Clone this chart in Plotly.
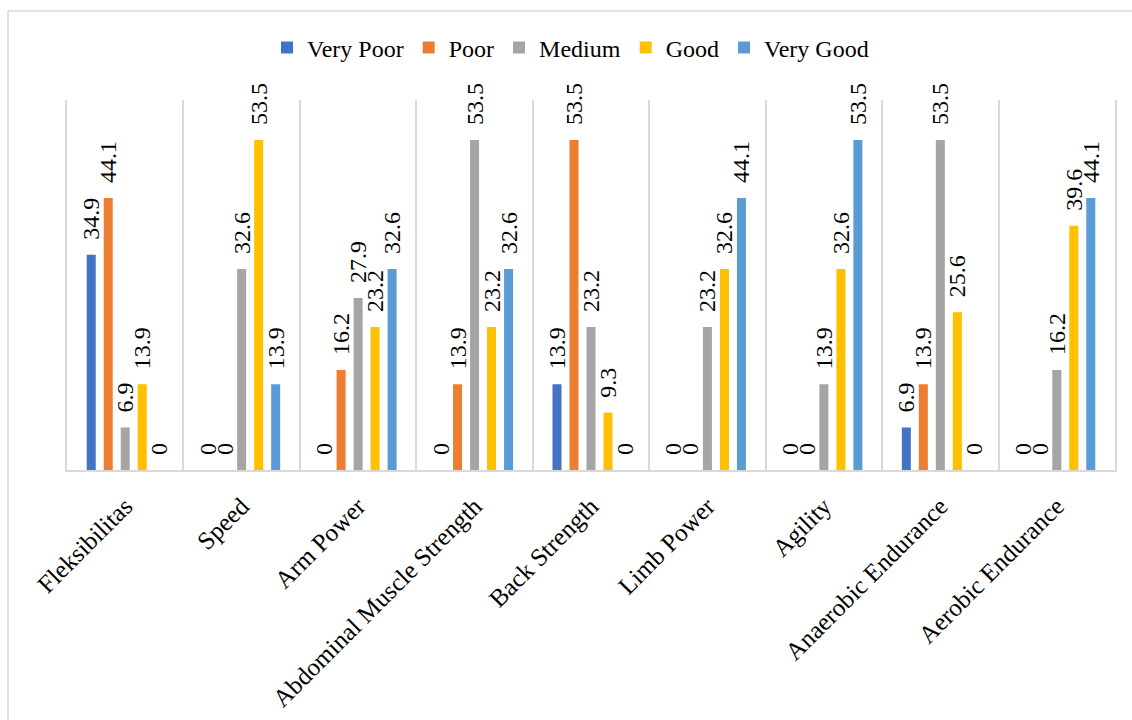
import plotly.graph_objects as go

categories = ["Fleksibilitas", "Speed", "Arm Power", "Abdominal Muscle Strength",
              "Back Strength", "Limb Power", "Agility", "Anaerobic Endurance",
              "Aerobic Endurance"]
very_poor = [34.9, 0, 0, 0, 13.9, 0, 0, 6.9, 0]
poor = [44.1, 0, 16.2, 13.9, 53.5, 0, 0, 13.9, 0]
medium = [6.9, 32.6, 27.9, 53.5, 23.2, 23.2, 13.9, 53.5, 16.2]
good = [13.9, 53.5, 23.2, 23.2, 9.3, 32.6, 32.6, 25.6, 39.6]
very_good = [0, 13.9, 32.6, 32.6, 0, 44.1, 53.5, 0, 44.1]

series = [
    ("Very Poor", very_poor, "#4472C4"),
    ("Poor", poor, "#ED7D31"),
    ("Medium", medium, "#A5A5A5"),
    ("Good", good, "#FFC000"),
    ("Very Good", very_good, "#5B9BD5"),
]

FONT = "'Liberation Serif', 'Times New Roman', serif"
fig = go.Figure()
for name, vals, color in series:
    fig.add_trace(go.Bar(
        name=name, x=categories, y=vals,
        marker=dict(color=color, line=dict(width=0)),
        texttemplate="\u00a0\u00a0%{y}",
        textposition="outside",
        textangle=-90,
        constraintext="none",
        cliponaxis=False,
        textfont=dict(family=FONT, size=24, color="#000000"),
        outsidetextfont=dict(family=FONT, size=24, color="#000000"),
    ))

fig.update_layout(
    width=1132, height=720,
    margin=dict(l=67, r=17, t=100, b=250, autoexpand=False),
    paper_bgcolor="white", plot_bgcolor="white",
    barmode="group", bargap=0.27, bargroupgap=0.47,
    font=dict(family=FONT, size=22, color="#000000"),
    showlegend=True,
    legend=dict(orientation="h", xref="container", x=0.504, xanchor="center",
                yref="container", y=1 - 48 / 720, yanchor="middle",
                font=dict(family=FONT, size=24, color="#000000"),
                bgcolor="rgba(0,0,0,0)", traceorder="normal"),
    xaxis=dict(type="category", tickson="boundaries", showgrid=True,
               gridcolor="#d9d9d9", gridwidth=1.5, showline=True,
               linecolor="#d9d9d9", linewidth=1.5, ticks="", automargin=False,
               ticklabelstandoff=10,
               tickangle=-45, tickfont=dict(family=FONT, size=25, color="#000000")),
    yaxis=dict(range=[0, 60], showticklabels=False, showgrid=False,
               zeroline=False, showline=True, mirror=True, automargin=False,
               linecolor="#d9d9d9", linewidth=1.5, ticks=""),
    shapes=[dict(type="rect", xref="paper", yref="paper",
                 x0=(8 - 67) / 1048, x1=1.03, y0=-0.7, y1=(470 - 11) / 370,
                 line=dict(color="#d9d9d9", width=1.5), layer="below")],
)

fig.write_html("out.html")
